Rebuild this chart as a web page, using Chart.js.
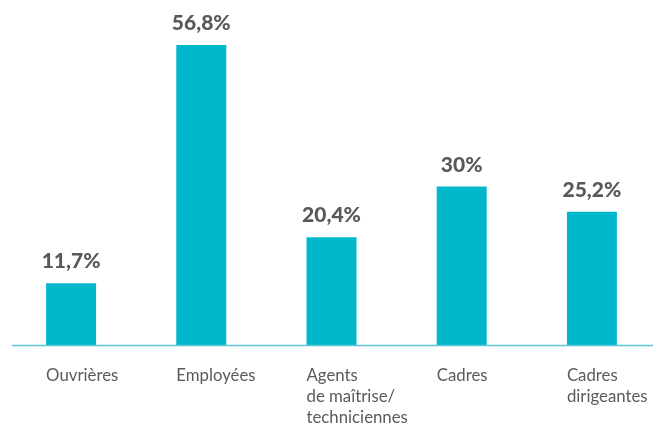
<!DOCTYPE html>
<html><head><meta charset="utf-8">
<script src="https://cdn.jsdelivr.net/npm/chart.js@4/dist/chart.umd.min.js"></script>
<style>
html,body{margin:0;padding:0;background:#fff;overflow:hidden;width:653px;height:424px;}
#wrap{position:absolute;left:0;top:0;width:663px;height:424px;}
</style></head>
<body>
<div id="wrap"><canvas id="c"></canvas></div>
<script>
const categories = [['Ouvrières'], ['Employées'], ['Agents', 'de maîtrise/', 'techniciennes'], ['Cadres'], ['Cadres', 'dirigeantes']];
const values = [11.7, 56.8, 20.4, 30, 25.2];

const barColor = '#00b7cc';
const textColor = '#58595b';

const labelPlugin = {
  id: 'labels',
  afterDatasetsDraw(chart) {
    const ctx = chart.ctx;
    const meta = chart.getDatasetMeta(0);
    const area = chart.chartArea;
    ctx.save();
    ctx.strokeStyle = '#5ec6d5';
    ctx.lineWidth = 1.5;
    ctx.beginPath();
    ctx.moveTo(area.left + 6, area.bottom + 0.5);
    ctx.lineTo(area.right, area.bottom + 0.5);
    ctx.stroke();
    meta.data.forEach((bar, i) => {
      const v = values[i];
      const txt = String(v).replace('.', ',') + '%';
      ctx.fillStyle = textColor;
      ctx.font = '900 21px Lato';
      ctx.textAlign = 'center';
      ctx.textBaseline = 'alphabetic';
      ctx.fillText(txt, bar.x, bar.y - 15);
      ctx.fillStyle = '#5a5a5a';
      ctx.font = '16.8px Lato';
      ctx.textAlign = 'left';
      const left = bar.x - bar.width / 2;
      categories[i].forEach((line, j) => {
        ctx.fillText(line, left, area.bottom + 36 + j * 21);
      });
    });
    ctx.restore();
  }
};

new Chart(document.getElementById('c'), {
  type: 'bar',
  data: {
    labels: categories.map(c => c.join(' ')),
    datasets: [{ data: values, backgroundColor: barColor, borderWidth: 0, categoryPercentage: 1, barPercentage: 0.384 }]
  },
  options: {
    responsive: true,
    maintainAspectRatio: false,
    animation: false,
    layout: { padding: { left: 6, right: 6, top: 0, bottom: 79 } },
    plugins: { legend: { display: false }, tooltip: { enabled: false } },
    scales: {
      x: { display: false },
      y: { display: false, min: 0, max: 65.3 }
    }
  },
  plugins: [labelPlugin]
});
</script>
</body></html>
